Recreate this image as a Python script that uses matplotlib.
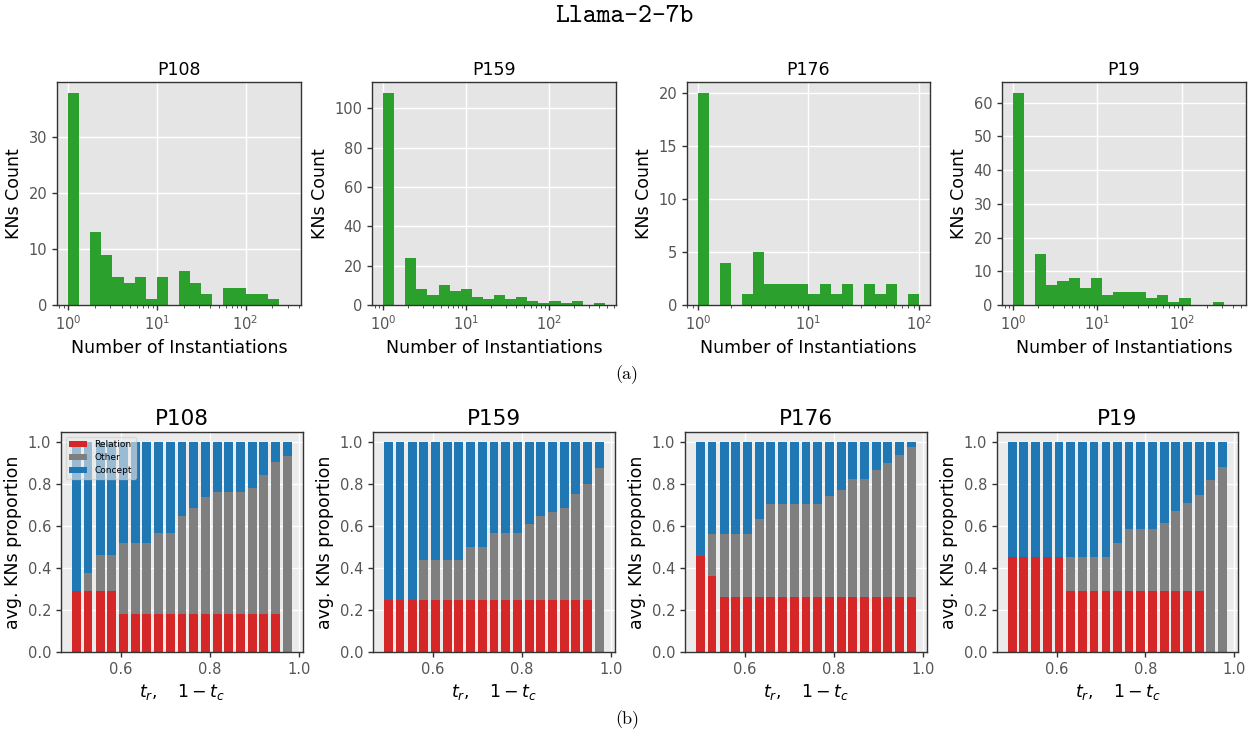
import os
import matplotlib
matplotlib.use("Agg")
import matplotlib.pyplot as plt
import numpy as np
from matplotlib.ticker import MultipleLocator, FixedLocator

# ---------------- data ----------------
relations = ["P108", "P159", "P176", "P19"]

# histogram counts per log-spaced bin (20 bins from 10^0 to 10^log_max)
hist_P108 = [38, 0, 13, 9, 5, 4, 5, 1, 5, 0, 6, 4, 2, 0, 3, 3, 2, 2, 1, 0]
hist_P159 = [108, 0, 24, 8, 5, 10, 7, 8, 4, 3, 5, 3, 4, 2, 1, 2, 1, 2, 0, 1]
hist_P176 = [20, 0, 4, 0, 1, 5, 2, 2, 2, 2, 1, 2, 1, 2, 0, 2, 1, 2, 0, 1]
hist_P19 = [63, 0, 15, 6, 7, 8, 5, 8, 3, 4, 4, 4, 2, 3, 1, 2, 0, 0, 1, 0]
hist_logmax = [2.5, 2.67, 2.0, 2.63]
hist_ystep = [10, 20, 5, 10]

# thresholds t_r = 1 - t_c
thresholds = [0.5, 0.526, 0.553, 0.579, 0.605, 0.632, 0.658, 0.684, 0.711, 0.737,
              0.763, 0.789, 0.816, 0.842, 0.868, 0.895, 0.921, 0.947, 0.974]

# proportions (Relation, Other); Concept = 1 - Relation - Other
rel_P108 = [0.29, 0.29, 0.29, 0.29] + [0.183] * 14 + [0.0]
oth_P108 = [0.0, 0.086, 0.175, 0.175, 0.339, 0.339, 0.339, 0.387, 0.387, 0.465,
            0.503, 0.559, 0.583, 0.583, 0.583, 0.602, 0.664, 0.723, 0.935]

rel_P159 = [0.25] * 18 + [0.0]
oth_P159 = [0.0, 0.0, 0.0, 0.191, 0.191, 0.191, 0.191, 0.25, 0.25, 0.317,
            0.317, 0.317, 0.363, 0.397, 0.417, 0.439, 0.502, 0.554, 0.876]

rel_P176 = [0.46, 0.365] + [0.264] * 17
oth_P176 = [0.0, 0.199, 0.30, 0.30, 0.30, 0.373, 0.44, 0.44, 0.44, 0.44,
            0.44, 0.481, 0.511, 0.564, 0.564, 0.607, 0.637, 0.674, 0.714]

rel_P19 = [0.454] * 5 + [0.29] * 12 + [0.0, 0.0]
oth_P19 = [0.0] * 5 + [0.164, 0.164, 0.164, 0.164, 0.229, 0.296, 0.296, 0.296,
                       0.328, 0.385, 0.423, 0.457, 0.82, 0.884]

hists = [hist_P108, hist_P159, hist_P176, hist_P19]
rels = [rel_P108, rel_P159, rel_P176, rel_P19]
oths = [oth_P108, oth_P159, oth_P176, oth_P19]

# ---------------- style ----------------
W, H = 1249, 734
fig = plt.figure(figsize=(W / 100, H / 100), dpi=100)

GREEN = "#2ca02c"
RED = "#d62728"
GRAY = "#7f7f7f"
BLUE = "#1f77b4"
TICKC = "#555555"


def rect(l, r, t, b):
    return [l / W, 1 - b / H, (r - l) / W, (b - t) / H]


def style_ax(ax, face):
    ax.set_facecolor(face)
    for s in ax.spines.values():
        s.set_color("#333333")
        s.set_linewidth(1.0)
    ax.grid(True, color="white", linewidth=1.0)
    ax.set_axisbelow(True)
    ax.tick_params(axis="both", which="major", colors="#333333", labelcolor=TICKC,
                   direction="out", length=3.5, width=1)
    ax.tick_params(axis="both", which="minor", colors="#333333", direction="out",
                   length=2, width=0.6)


top_lr = [(57, 301), (372, 616), (687, 930), (1002, 1246)]
bot_lr = [(61, 303), (373, 615), (685, 927), (997, 1238)]

# ---------------- top row: histograms ----------------
for i, name in enumerate(relations):
    l, r = top_lr[i]
    ax = fig.add_axes(rect(l, r, 82, 305))
    style_ax(ax, "#E5E5E5")
    edges = np.logspace(0, hist_logmax[i], len(hists[i]) + 1)
    ax.hist(edges[:-1], bins=edges, weights=hists[i], color=GREEN)
    ax.set_xscale("log")
    ax.yaxis.set_major_locator(MultipleLocator(hist_ystep[i]))
    ax.set_title(name, fontsize=12.5, pad=5)
    ax.set_xlabel("Number of Instantiations", fontsize=12.5)
    ax.set_ylabel("KNs Count", fontsize=12.5)
    ax.tick_params(axis="both", labelsize=10.5)
    ax.grid(False, which="minor")

# ---------------- bottom row: stacked bars ----------------
for i, name in enumerate(relations):
    l, r = bot_lr[i]
    ax = fig.add_axes(rect(l, r, 432, 652))
    style_ax(ax, "#EBEBEB")
    rel = np.array(rels[i])
    oth = np.array(oths[i])
    con = 1 - rel - oth
    ax.bar(thresholds, rel, width=0.02, color=RED, label="Relation")
    ax.bar(thresholds, oth, width=0.02, bottom=rel, color=GRAY, label="Other")
    ax.bar(thresholds, con, width=0.02, bottom=rel + oth, color=BLUE, label="Concept")
    ax.xaxis.set_major_locator(FixedLocator([0.6, 0.8, 1.0]))
    ax.yaxis.set_major_locator(MultipleLocator(0.2))
    ax.set_title(name, fontsize=15.5, pad=5)
    ax.set_xlabel(r"$t_r,\quad 1-t_c$", fontsize=12.5)
    ax.set_ylabel("avg. KNs proportion", fontsize=12.5)
    ax.tick_params(axis="both", labelsize=10.5)
    if i == 0:
        ax.legend(loc="upper left", fontsize=6.5, frameon=True, framealpha=0.6,
                  facecolor="#EBEBEB", edgecolor="#cccccc",
                  handlelength=2.0, borderpad=0.4, labelspacing=0.45)

# ---------------- figure texts ----------------
fig.text(0.5, 1 - 17 / H, "Llama-2-7b", family="cmtt10", fontsize=19,
         ha="center", va="center")
fig.text(627 / W, 1 - 375 / H, "(a)", family="cmr10", fontsize=13,
         ha="center", va="center")
fig.text(627 / W, 1 - 720 / H, "(b)", family="cmr10", fontsize=13,
         ha="center", va="center")

fig.savefig("out.png", dpi=100)
